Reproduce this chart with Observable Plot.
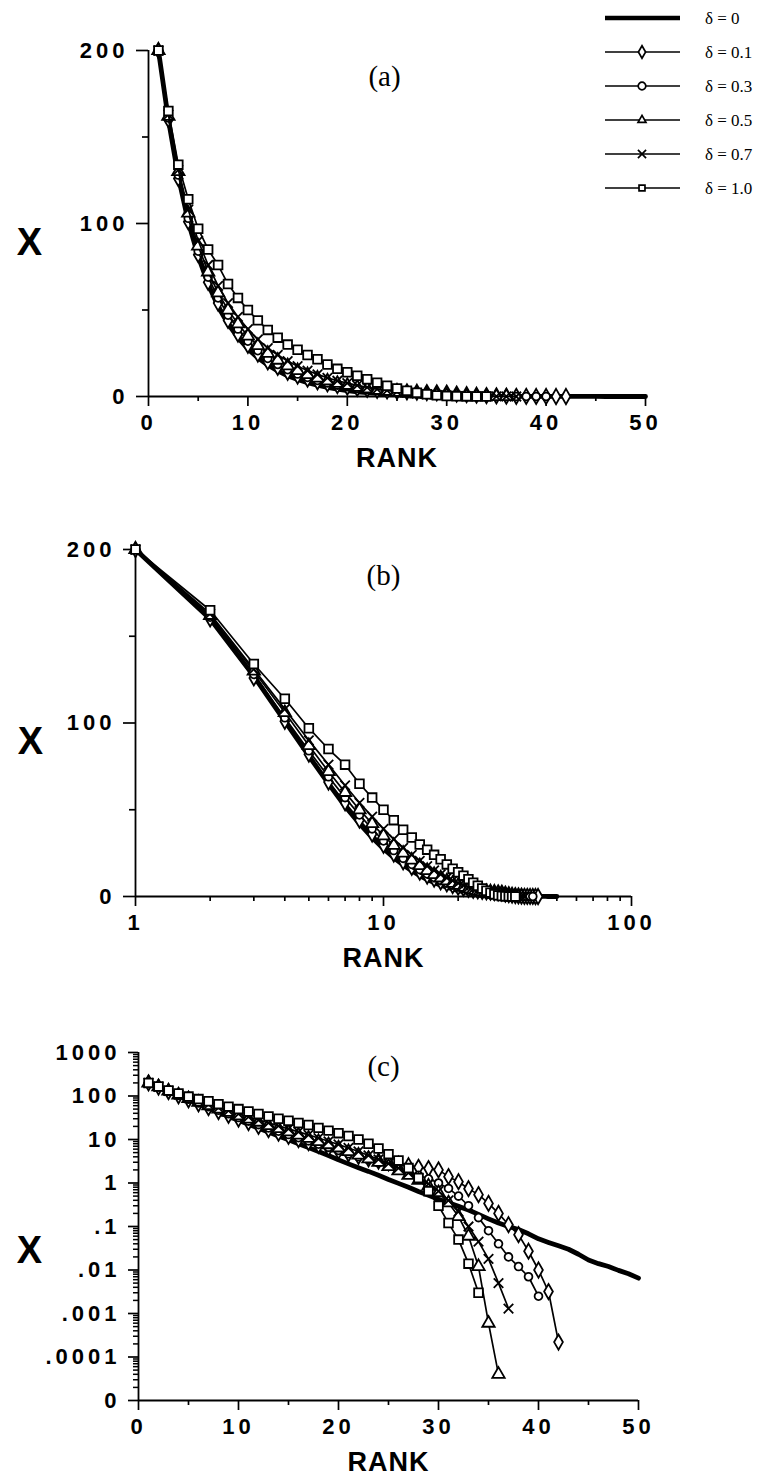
<!DOCTYPE html>
<html><head><meta charset="utf-8">
<script src="https://cdn.jsdelivr.net/npm/d3@7"></script>
<script src="https://cdn.jsdelivr.net/npm/@observablehq/plot@0.6"></script>
<style>
body{margin:0;background:#fff;}
#wrap{position:relative;width:770px;height:1477px;overflow:hidden;background:#fff;}
.panel{position:absolute;left:0;}
.panel text{letter-spacing:4px;}
.panel .serif text{letter-spacing:0;}
.panel .rank text{letter-spacing:1px;}
</style></head><body><div id="wrap"></div>
<script>
// ---------------- data ----------------
const seriesNames = ["δ = 0", "δ = 0.1", "δ = 0.3", "δ = 0.5", "δ = 0.7", "δ = 1.0"];
const seriesSymbols = [null, "diamond", "circle", "triangle", "times", "square"];
const seriesR = [0, 4.6, 3.9, 4.6, 4.4, 4.9];

const delta0 = [200,160,127,101,81,65,52,42,34,27.5,22.3,18.2,14.8,12.0,9.8,8.0,6.5,5.3,4.3,3.4,
  2.75,2.25,1.85,1.5,1.2,0.98,0.8,0.64,0.52,0.42,0.35,0.29,0.24,0.19,0.15,0.12,0.1,0.085,0.068,0.052,
  0.043,0.036,0.03,0.023,0.017,0.014,0.012,0.0098,0.0082,0.0065];
const delta01 = [200,160,126,101,82,66,54,44,36,29.5,24.5,20,16.8,14,11.8,10,8.5,7.3,6.3,5.4,
  4.7,4.1,3.6,3.2,2.9,2.7,2.5,2.3,2.15,2.0,1.4,1.07,0.74,0.54,0.34,0.2,0.11,0.065,0.027,0.010,
  0.0032,0.00022];
const delta03 = [200,161,128,103,84,69,57,47,39,32,26.5,22,18.5,15.5,13,11,9.3,7.8,6.6,5.6,
  4.7,4.0,3.4,2.9,2.5,2.1,1.8,1.5,1.25,1.0,0.75,0.5,0.3,0.16,0.08,0.04,0.02,0.012,0.007,0.0025];
const delta05 = [200,162,130,106,87,72,60,50,42,35,29.5,25,21,17.8,15,12.7,10.7,9.0,7.6,6.4,
  5.3,4.4,3.6,3.0,2.4,1.9,1.5,1.15,0.85,0.6,0.35,0.17,0.06,0.012,0.0006,0.00004];
const delta07 = [200,163,131,108,90,76,64,54,46,39,33,28,24,20.5,17.5,15,12.8,10.8,9.1,7.7,
  6.4,5.3,4.3,3.5,2.8,2.2,1.7,1.3,0.95,0.65,0.4,0.22,0.1,0.045,0.018,0.005,0.0013];
const delta10 = [200,165,134,114,97,85,76,65,57,50,44,38.5,34,30,27,24,21.5,18.5,16,14,
  12,10,8,6.2,4.6,3.3,2.2,1.3,0.65,0.3,0.12,0.05,0.014,0.003];

const allSeries = [delta0, delta01, delta03, delta05, delta07, delta10];

// tick values / labels
const xTicksLin = [0, 10, 20, 30, 40, 50];
const xMinorLin = [5, 15, 25, 35, 45];
const yTicksLin = [0, 100, 200];
const yMinorLin = [50, 150];
const xTicksLog = [1, 10, 100];
const xTickLabelsLog = ["1", "10", "100"];
const yTicksLogC = [1e-5, 1e-4, 1e-3, 1e-2, 1e-1, 1, 10, 100, 1000];
const yTickLabelsC = ["0", ".0001", ".001", ".01", ".1", "1", "10", "100", "1000"];
const panelLabels = ["(a)", "(b)", "(c)"];

// tidy rows
const rows = [];
allSeries.forEach((vals, s) => vals.forEach((v, i) => rows.push({rank: i + 1, x: v, s})));

const W = 770;
const SANS = "'Liberation Sans', Arial, Helvetica, sans-serif";
const SERIF = "'Liberation Serif', 'Times New Roman', serif";
const tickFont = {fontFamily: SANS, fontSize: 22, fontWeight: "bold"};
const labelMap = (ticks, labels) => { const m = new Map(ticks.map((t, i) => [t, labels[i]])); return d => m.get(d); };

function seriesMarks(data) {
  const marks = [];
  marks.push(Plot.line(data.filter(d => d.s === 0), {x: "rank", y: "x", stroke: "black", strokeWidth: 4.8}));
  for (let s = 1; s < 6; s++) {
    const sub = data.filter(d => d.s === s);
    marks.push(Plot.line(sub, {x: "rank", y: "x", stroke: "black", strokeWidth: 1.7}));
    marks.push(Plot.dot(sub, {x: "rank", y: "x", symbol: () => seriesSymbols[s], r: seriesR[s], fill: "white", stroke: "black", strokeWidth: 1.8}));
  }
  return marks;
}

function panelText(label, labelDx, labelDy, xDx, xDy) {
  return [
    Plot.text([label], {frameAnchor: "top-left", dx: labelDx, dy: labelDy, text: d => d, textAnchor: "middle", lineAnchor: "middle",
      fontFamily: SERIF, fontSize: 29, fontWeight: "normal", className: "serif"}),
    Plot.text(["X"], {frameAnchor: "top-left", dx: xDx, dy: xDy, text: d => d, textAnchor: "middle", lineAnchor: "middle",
      fontFamily: SANS, fontSize: 38, fontWeight: "bold", className: "serif"}),
    Plot.text(["RANK"], {frameAnchor: "bottom", dy: 62, text: d => d, textAnchor: "middle", lineAnchor: "middle",
      fontFamily: SANS, fontSize: 27, fontWeight: "bold", className: "rank"})
  ];
}

const wrap = document.getElementById("wrap");
function place(svg, top) {
  svg.classList.add("panel");
  svg.style.top = top + "px";
  wrap.appendChild(svg);
}
const axisStyle = {tickPadding: 8, strokeWidth: 1.7, label: null, ...tickFont};

// ---------------- panel (a) ----------------
const pa = Plot.plot({
  width: W, height: 490,
  marginLeft: 148, marginRight: 125, marginTop: 50, marginBottom: 94,
  style: {background: "transparent", overflow: "visible", ...tickFont},
  x: {domain: [0, 50], label: null},
  y: {domain: [0, 200], label: null},
  marks: [
    Plot.ruleX([0], {stroke: "black", strokeWidth: 1.8}),
    Plot.ruleY([0], {stroke: "black", strokeWidth: 1.8}),
    Plot.axisX({ticks: xTicksLin, tickSize: 10, ...axisStyle}),
    Plot.axisX({ticks: xMinorLin, tickSize: 5, text: null, strokeWidth: 1.7, label: null}),
    Plot.axisY({ticks: yTicksLin, tickSize: 12, ...axisStyle}),
    Plot.axisY({ticks: yMinorLin, tickSize: 6, text: null, strokeWidth: 1.7, label: null}),
    ...seriesMarks(rows),
    ...panelText(panelLabels[0], 236, 26, -119, 192)
  ]
});
place(pa, 0);

// ---------------- panel (b) ----------------
const pb = Plot.plot({
  width: W, height: 490,
  marginLeft: 135, marginRight: 139, marginTop: 49, marginBottom: 94,
  style: {background: "transparent", overflow: "visible", ...tickFont},
  x: {type: "log", domain: [1, 100], label: null},
  y: {domain: [0, 200], label: null},
  marks: [
    Plot.ruleX([1], {stroke: "black", strokeWidth: 1.8}),
    Plot.ruleY([0], {stroke: "black", strokeWidth: 1.8}),
    Plot.axisX({ticks: xTicksLog, tickFormat: labelMap(xTicksLog, xTickLabelsLog), tickSize: 10, ...axisStyle}),
    Plot.axisX({ticks: d3.range(2, 10).concat(d3.range(20, 100, 10)), tickSize: 5, text: null, strokeWidth: 1.7, label: null}),
    Plot.axisY({ticks: yTicksLin, tickSize: 12, ...axisStyle}),
    Plot.axisY({ticks: yMinorLin, tickSize: 6, text: null, strokeWidth: 1.7, label: null}),
    ...seriesMarks(rows),
    ...panelText(panelLabels[1], 248, 26, -105, 192)
  ]
});
place(pb, 500);

// ---------------- panel (c) ----------------
const minorLog = [];
for (let e = -5; e < 3; e++) for (let m = 2; m < 10; m++) minorLog.push(m * Math.pow(10, e));
const pc = Plot.plot({
  width: W, height: 477,
  marginLeft: 138, marginRight: 132, marginTop: 52, marginBottom: 77,
  style: {background: "transparent", overflow: "visible", ...tickFont},
  x: {domain: [0, 50], label: null},
  y: {type: "log", domain: [1e-5, 1000], label: null},
  marks: [
    Plot.ruleX([0], {stroke: "black", strokeWidth: 1.8}),
    Plot.ruleY([1e-5], {stroke: "black", strokeWidth: 1.8}),
    Plot.axisX({ticks: xTicksLin, tickSize: 10, ...axisStyle}),
    Plot.axisX({ticks: xMinorLin, tickSize: 5, text: null, strokeWidth: 1.7, label: null}),
    Plot.axisY({ticks: yTicksLogC, tickFormat: labelMap(yTicksLogC, yTickLabelsC), tickSize: 10, ...axisStyle}),
    Plot.axisY({ticks: minorLog, tickSize: 5, text: null, strokeWidth: 1.5, label: null}),
    ...seriesMarks(rows),
    ...panelText(panelLabels[2], 245, 14, -109, 198)
  ]
});
place(pc, 1000);

// ---------------- legend ----------------
const leg = d3.select(wrap).append("svg")
  .style("position", "absolute").style("left", "590px").style("top", "0px")
  .attr("width", 180).attr("height", 210);
const rowY = i => 18 + i * 34;
const legSyms = {diamond: d3.symbolDiamond, circle: d3.symbolCircle, triangle: d3.symbolTriangle2, times: d3.symbolTimes, square: d3.symbolSquare2};
seriesNames.forEach((name, i) => {
  const g = leg.append("g").attr("transform", `translate(0,${rowY(i)})`);
  g.append("line").attr("x1", 15).attr("x2", 90).attr("y1", 0).attr("y2", 0)
    .attr("stroke", "black").attr("stroke-width", i === 0 ? 4.5 : 1.7);
  if (i > 0) {
    g.append("path").attr("d", d3.symbol(legSyms[seriesSymbols[i]], 45)()).attr("transform", "translate(52,0)")
      .attr("fill", "white").attr("stroke", "black").attr("stroke-width", 1.7);
  }
  g.append("text").attr("x", 115).attr("y", 6).text(name)
    .attr("font-family", SERIF).attr("font-size", 17);
});
</script></body></html>
